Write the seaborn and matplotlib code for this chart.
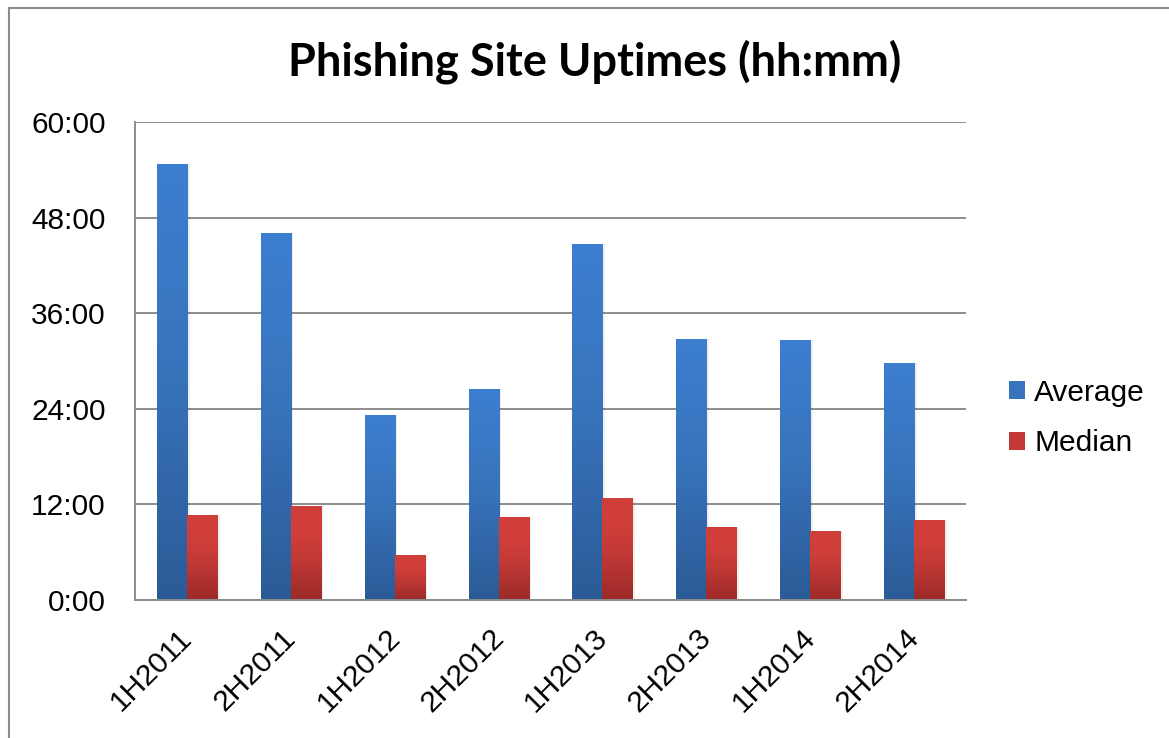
import numpy as np
import pandas as pd
import matplotlib
matplotlib.use("Agg")
import matplotlib.pyplot as plt
import matplotlib.transforms as mtransforms
import seaborn as sns
from matplotlib.colors import LinearSegmentedColormap
from matplotlib.patches import Rectangle, Patch
from matplotlib.ticker import FuncFormatter, MultipleLocator

# ---- data (hours) ----
periods = ["1H2011", "2H2011", "1H2012", "2H2012", "1H2013", "2H2013", "1H2014", "2H2014"]
average_hours = [54.75, 46.1, 23.2, 26.45, 44.65, 32.7, 32.6, 29.8]
median_hours = [10.73, 11.74, 5.7, 10.48, 12.83, 9.18, 8.68, 10.06]
series_names = ["Average", "Median"]
title_text = "Phishing Site Uptimes (hh:mm)"

df = pd.DataFrame({
    "period": periods * 2,
    "hours": average_hours + median_hours,
    "series": [series_names[0]] * len(periods) + [series_names[1]] * len(periods),
})

blue_top, blue_mid, blue_bot = "#3c7fd0", "#3874bd", "#2b5b96"
red_top, red_mid, red_bot = "#d03e3a", "#c23936", "#9b2a28"

sns.set_theme(style="white")
plt.rcParams["font.family"] = ["Liberation Sans", "DejaVu Sans"]
plt.rcParams["text.color"] = "black"

fig = plt.figure(figsize=(11.69, 7.38), dpi=100)
W, H = 1169, 738
ax = fig.add_axes([135 / W, 1 - 600 / H, (966 - 135) / W, (600 - 122) / H])

sns.barplot(data=df, x="period", y="hours", hue="series", order=periods,
            hue_order=series_names, palette=[blue_mid, red_mid], saturation=1,
            width=0.578, dodge=True, ax=ax, legend=False, errorbar=None)

# gradient fills on each bar
cmaps = [
    LinearSegmentedColormap.from_list("b", [(0, blue_bot), (0.55, blue_mid), (1, blue_top)]),
    LinearSegmentedColormap.from_list("r", [(0, red_bot), (0.45, red_mid), (0.7, red_top), (1, red_top)]),
]
grad = np.linspace(0, 1, 256).reshape(-1, 1)
for ci, cont in enumerate(ax.containers):
    for bar in cont:
        x0, y0 = bar.get_x(), bar.get_y()
        w, h = bar.get_width(), bar.get_height()
        bar.set_edgecolor("none")
        sh = Rectangle((x0 + w, 0), 0.025, h, color="#000000", alpha=0.06, zorder=1.5, lw=0)
        ax.add_patch(sh)
        im = ax.imshow(grad, cmap=cmaps[ci], origin="lower", aspect="auto",
                       extent=[x0, x0 + w, y0, y0 + h], zorder=2)
        im.set_clip_path(bar)

ax.set_xlim(-0.5, len(periods) - 0.5)
ax.set_ylim(0, 60)
ax.yaxis.set_major_locator(MultipleLocator(12))
ax.yaxis.set_major_formatter(FuncFormatter(lambda v, p: f"{int(v)}:00"))
ax.set_xticks(np.arange(len(periods)))
ax.set_xticklabels(periods)

grid_c = "#8c8c8c"
ax.grid(axis="y", color=grid_c, linewidth=1.4, zorder=0)
ax.set_axisbelow(True)
for s in ["top", "right"]:
    ax.spines[s].set_visible(False)
for s in ["left", "bottom"]:
    ax.spines[s].set_color(grid_c)
    ax.spines[s].set_linewidth(1.4)

ax.set_xticks(np.arange(len(periods) + 1) - 0.5, minor=True)
ax.tick_params(axis="x", which="minor", direction="out", length=8, width=1.4, color=grid_c)
ax.tick_params(axis="x", which="major", length=0, labelsize=21.5, pad=17, labelcolor="black")
ax.tick_params(axis="y", which="major", direction="out", length=9, width=1.4, color=grid_c,
               labelsize=21.5, pad=12, labelcolor="black")
shift = mtransforms.ScaledTranslation(-9 / 100, 0, fig.dpi_scale_trans)
for lab in ax.get_xticklabels():
    lab.set_rotation(45)
    lab.set_ha("right")
    lab.set_rotation_mode("anchor")
    lab.set_transform(lab.get_transform() + shift)

ax.set_xlabel("")
ax.set_ylabel("")

handles = [Patch(facecolor=blue_mid, edgecolor="none"), Patch(facecolor=red_mid, edgecolor="none")]
fig.legend(handles, series_names, loc="center left", bbox_to_anchor=(997 / W, 1 - 418 / H),
           frameon=False, fontsize=21.5, handlelength=0.55, handleheight=0.55,
           handletextpad=0.3, labelspacing=0.75, borderaxespad=0, labelcolor="black")

fig.text(0.509, 1 - 62 / H, title_text, ha="center", va="center", fontsize=32.5,
         fontweight="bold", color="black", family=["Lato", "DejaVu Sans"])

fig.add_artist(Rectangle((9 / W, -0.1), 1.2, 1 - 8 / H + 0.1, transform=fig.transFigure,
                         fill=False, edgecolor="#8c8c8c", linewidth=1.5))

fig.savefig("out.png", dpi=100, facecolor="white")
